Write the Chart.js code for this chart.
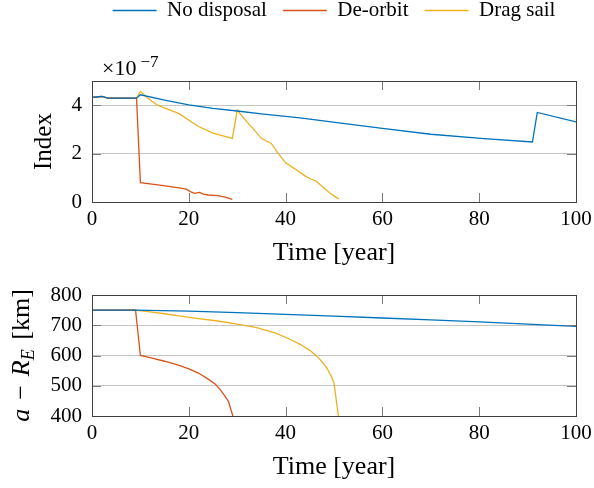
<!DOCTYPE html>
<html>
<head>
<meta charset="utf-8">
<title>Index and altitude over time</title>
<script src="https://cdn.jsdelivr.net/npm/chart.js@4.4.1/dist/chart.umd.min.js"></script>
<style>
    html, body { margin: 0; padding: 0; background: #fff; }
    body { width: 594px; height: 488px; position: relative; overflow: hidden; }
    .panel { position: absolute; left: 0; width: 594px; }
    #topPanel { top: -16px; height: 286px; }
    #bottomPanel { top: 270px; height: 218px; }
</style>
</head>
<body>
<div class="panel" id="topPanel"><canvas id="indexChart"></canvas></div>
<div class="panel" id="bottomPanel"><canvas id="altitudeChart"></canvas></div>
<script>
// Series
const seriesNames = ['No disposal', 'De-orbit', 'Drag sail'];
const seriesColors = ['#0072BD', '#D95319', '#EDB120'];

// Tick values
const yearTicks = [0, 20, 40, 60, 80, 100];
const indexTicks = [0, 2, 4];            // index in units of 1e-7
const altitudeTicks = [400, 500, 600, 700, 800];

// Top panel: index (x 1e-7) over time
const noDisposalYears = [0, 2, 3.3, 9.2, 10, 15, 20, 25, 30, 35, 43, 51, 60, 70, 81, 91, 92, 100];
const noDisposalIndex = [4.32, 4.36, 4.29, 4.29, 4.43, 4.21, 4.01, 3.87, 3.76, 3.64, 3.48, 3.27, 3.04, 2.80, 2.62, 2.48, 3.70, 3.31];

const deorbitYears = [0, 2, 3.3, 9.2, 10, 14, 18, 19.5, 20.3, 21.2, 22.2, 23, 24, 26, 27.5, 29];
const deorbitIndex = [4.32, 4.36, 4.29, 4.29, 0.80, 0.70, 0.58, 0.53, 0.43, 0.36, 0.40, 0.33, 0.29, 0.26, 0.20, 0.11];

const dragSailYears = [0, 2, 3.3, 9.2, 10, 11.5, 13.5, 18, 22, 25, 29, 30, 32, 33.5, 35, 36, 37, 38.5, 40, 42, 44, 45.2, 46.2, 47.5, 49.2, 51];
const dragSailIndex = [4.32, 4.36, 4.29, 4.29, 4.57, 4.30, 4.00, 3.65, 3.12, 2.85, 2.63, 3.80, 3.31, 2.98, 2.63, 2.52, 2.43, 2.00, 1.62, 1.36, 1.08, 0.95, 0.88, 0.65, 0.36, 0.12];

// Bottom panel: a - R_E [km] over time
const noDisposalAltYears = [0, 9, 20, 30, 40, 50, 60, 70, 80, 90, 100];
const noDisposalAlt = [750, 750, 747, 742, 736, 730, 724, 718, 711, 704, 696];

const deorbitAltYears = [0, 9, 10, 12, 15, 18, 20, 22, 24, 25.5, 26.5, 27.5, 28.2, 29.1];
const deorbitAlt = [750, 750, 600, 593, 581, 567, 556, 542, 522, 505, 487, 465, 448, 400];

const dragSailAltYears = [0, 9, 12, 15, 18, 22, 26, 30, 34, 38, 41, 43, 45, 46.5, 47.5, 48.5, 49.5, 50, 50.9];
const dragSailAlt = [750, 750, 744, 738, 731, 722, 714, 704, 692, 674, 653, 637, 617, 597, 580, 559, 530, 509, 400];

const serif = "'Liberation Serif', 'Times New Roman', serif";
Chart.defaults.font.family = serif;
Chart.defaults.color = '#000';

function points(xs, ys) {
    return xs.map((x, i) => ({ x: x, y: ys[i] }));
}

function lineSet(i, xs, ys) {
    return {
        label: seriesNames[i],
        data: points(xs, ys),
        borderColor: seriesColors[i],
        backgroundColor: seriesColors[i],
        borderWidth: 1.3,
        pointRadius: 0,
        tension: 0
    };
}

// pgfplots-like box: inner tick marks on all four sides, dark frame
const frameAndTicks = {
    id: 'frameAndTicks',
    afterDatasetsDraw(chart) {
        const { ctx, chartArea: a, scales } = chart;
        const len = 9;
        ctx.save();
        ctx.lineWidth = 1;
        ctx.strokeStyle = '#7a7a7a';
        ctx.beginPath();
        scales.x.ticks.forEach(t => {
            const px = Math.round(scales.x.getPixelForValue(t.value)) + 0.5;
            ctx.moveTo(px, a.top); ctx.lineTo(px, a.top + len);
            ctx.moveTo(px, a.bottom); ctx.lineTo(px, a.bottom - len);
        });
        scales.y.ticks.forEach(t => {
            const py = Math.round(scales.y.getPixelForValue(t.value)) + 0.5;
            ctx.moveTo(a.left, py); ctx.lineTo(a.left + len, py);
            ctx.moveTo(a.right, py); ctx.lineTo(a.right - len, py);
        });
        ctx.stroke();
        ctx.strokeStyle = '#404040';
        ctx.strokeRect(Math.round(a.left) + 0.5, Math.round(a.top) + 0.5,
            Math.round(a.right - a.left), Math.round(a.bottom - a.top));
        ctx.restore();
    }
};

// "x10^-7" label above the index axis
const indexScaleLabel = {
    id: 'indexScaleLabel',
    afterDraw(chart) {
        const { ctx, chartArea: a } = chart;
        const base = '\u00d710';
        ctx.save();
        ctx.fillStyle = '#000';
        ctx.textBaseline = 'alphabetic';
        ctx.font = '22px ' + serif;
        ctx.fillText(base, a.left + 10, a.top - 6);
        const w = ctx.measureText(base).width;
        ctx.font = '17px ' + serif;
        ctx.fillText('\u22127', a.left + 14 + w, a.top - 14);
        ctx.restore();
    }
};

// rotated "a - R_E [km]" with subscript
const altitudeTitle = {
    id: 'altitudeTitle',
    afterDraw(chart) {
        const { ctx, chartArea: a } = chart;
        const parts = [
            { text: 'a', font: 'italic 26px ' + serif, dy: 0, gap: 9 },
            { text: '\u2212', font: '26px ' + serif, dy: 0, gap: 9 },
            { text: 'R', font: 'italic 26px ' + serif, dy: 0, gap: 0 },
            { text: 'E', font: 'italic 18px ' + serif, dy: 5, gap: 3 },
            { text: ' [km]', font: '26px ' + serif, dy: 0, gap: 0 }
        ];
        ctx.save();
        let total = 0;
        parts.forEach(p => {
            ctx.font = p.font;
            p.w = ctx.measureText(p.text).width;
            total += p.w + p.gap;
        });
        ctx.translate(29, (a.top + a.bottom) / 2);
        ctx.rotate(-Math.PI / 2);
        ctx.fillStyle = '#000';
        ctx.textBaseline = 'alphabetic';
        let x = -total / 2;
        parts.forEach(p => {
            ctx.font = p.font;
            ctx.fillText(p.text, x, p.dy);
            x += p.w + p.gap;
        });
        ctx.restore();
    }
};

function xAxis(height, titleBottom) {
    return {
        type: 'linear',
        min: 0,
        max: 100,
        afterBuildTicks: s => { s.ticks = yearTicks.map(v => ({ value: v })); },
        afterFit: s => { s.height = height; s.paddingRight = 0; },
        grid: { display: false, drawTicks: false },
        border: { display: false },
        ticks: { font: { size: 21 }, padding: 5 },
        title: {
            display: true,
            text: 'Time [year]',
            font: { size: 26 },
            padding: { top: 0, bottom: titleBottom }
        }
    };
}

function yAxis(min, max, tickValues) {
    return {
        min: min,
        max: max,
        afterBuildTicks: s => { s.ticks = tickValues.map(v => ({ value: v })); },
        afterFit: s => { s.width = 92; },
        grid: { color: '#c4c4c4', lineWidth: 1, drawTicks: false },
        border: { display: false },
        ticks: { font: { size: 21 }, padding: 10 }
    };
}

// Top chart
const indexY = yAxis(0, 5, indexTicks);
indexY.title = {
    display: true,
    text: 'Index',
    font: { size: 25 },
    padding: { top: 29, bottom: 0 }
};

new Chart(document.getElementById('indexChart'), {
    type: 'line',
    data: {
        datasets: [
            lineSet(0, noDisposalYears, noDisposalIndex),
            lineSet(1, deorbitYears, deorbitIndex),
            lineSet(2, dragSailYears, dragSailIndex)
        ]
    },
    options: {
        responsive: true,
        maintainAspectRatio: false,
        animation: false,
        events: [],
        layout: { padding: { left: 0, right: 18, top: 0, bottom: 0 } },
        scales: { x: xAxis(68, 1), y: indexY },
        plugins: {
            legend: {
                display: true,
                position: 'top',
                fullSize: false,
                labels: {
                    font: { size: 21 },
                    boxWidth: 44,
                    boxHeight: 0,
                    padding: 16
                }
            },
            // empty block that keeps room for the x10^-7 label
            title: {
                display: true,
                text: '',
                weight: 500,
                font: { size: 10, lineHeight: 1 },
                padding: { top: 20, bottom: 20 }
            },
            tooltip: { enabled: false }
        }
    },
    plugins: [frameAndTicks, indexScaleLabel]
});

// Bottom chart
new Chart(document.getElementById('altitudeChart'), {
    type: 'line',
    data: {
        datasets: [
            lineSet(0, noDisposalAltYears, noDisposalAlt),
            lineSet(1, deorbitAltYears, deorbitAlt),
            lineSet(2, dragSailAltYears, dragSailAlt)
        ]
    },
    options: {
        responsive: true,
        maintainAspectRatio: false,
        animation: false,
        events: [],
        layout: { padding: { left: 0, right: 18, top: 25, bottom: 0 } },
        scales: { x: xAxis(72, 5), y: yAxis(400, 800, altitudeTicks) },
        plugins: {
            legend: { display: false },
            tooltip: { enabled: false }
        }
    },
    plugins: [frameAndTicks, altitudeTitle]
});
</script>
</body>
</html>
